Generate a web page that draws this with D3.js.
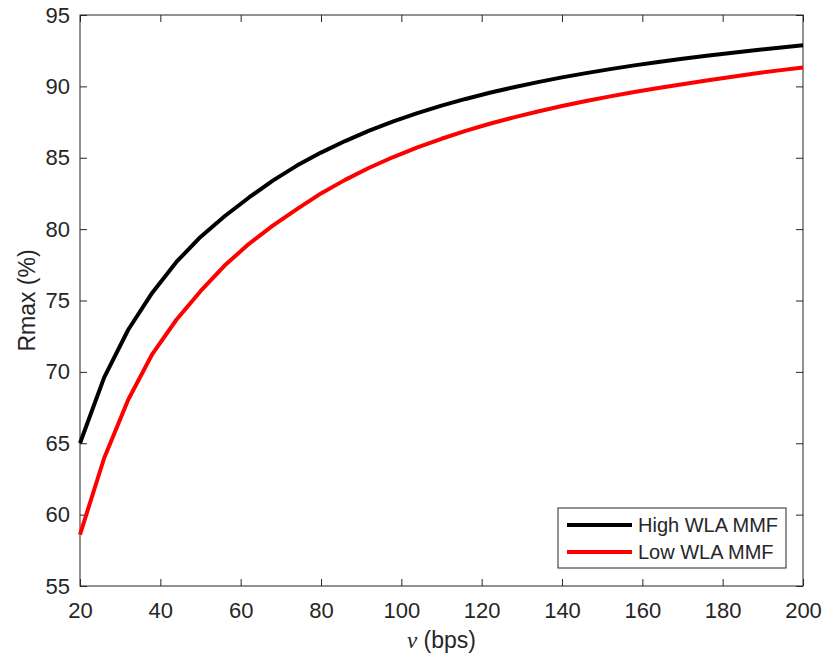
<!DOCTYPE html>
<html>
<head>
<meta charset="utf-8">
<script src="https://cdn.jsdelivr.net/npm/d3@7"></script>
<style>
  body { margin: 0; background: #fff; }
  text { font-family: "Liberation Sans", Arial, sans-serif; fill: #262626; }
</style>
</head>
<body>
<svg id="chart"></svg>
<script>
// -- DATA --
const rate = [20, 26, 32, 38, 44, 50, 56, 62, 68, 74, 80, 86, 92, 98, 104, 110, 116, 122, 128, 134,
  140, 146, 152, 158, 164, 170, 176, 182, 188, 194, 200];
const highWla = [65.0, 69.6, 72.95, 75.55, 77.7, 79.45, 80.9, 82.2, 83.4, 84.45, 85.36, 86.17, 86.9, 87.55, 88.13, 88.65, 89.12, 89.55, 89.94, 90.3,
  90.63, 90.93, 91.21, 91.47, 91.71, 91.93, 92.14, 92.34, 92.53, 92.71, 92.88];
const lowWla = [58.6, 63.95, 68.05, 71.25, 73.65, 75.65, 77.45, 78.95, 80.25, 81.4, 82.5, 83.45, 84.3, 85.05, 85.72, 86.33, 86.88, 87.38, 87.83, 88.24,
  88.62, 88.97, 89.3, 89.6, 89.88, 90.15, 90.41, 90.66, 90.9, 91.12, 91.32];
const seriesNames = ["High WLA MMF", "Low WLA MMF"];
const seriesColors = ["#000000", "#ff0000"];
const xTicks = [20, 40, 60, 80, 100, 120, 140, 160, 180, 200];
const yTicks = [55, 60, 65, 70, 75, 80, 85, 90, 95];

// -- LAYOUT --
const W = 826, H = 659;
const m = { left: 80, top: 15, right: 23, bottom: 73 };
const w = W - m.left - m.right;
const h = H - m.top - m.bottom;
const axisColor = "#262626";
const tickLen = 7;

const svg = d3.select("#chart").attr("width", W).attr("height", H);
const g = svg.append("g").attr("transform", `translate(${m.left},${m.top})`);

// Scales
const x = d3.scaleLinear().domain([20, 200]).range([0, w]);
const y = d3.scaleLinear().domain([55, 95]).range([h, 0]);

// axes, ticks inward on all four sides (box on)
function styleAxis(sel) {
  sel.select(".domain").remove();
  sel.selectAll(".tick line").attr("stroke", axisColor);
  sel.selectAll(".tick text").style("font-size", "22px").attr("fill", axisColor);
}
g.append("g")
  .attr("transform", `translate(0,${h})`)
  .call(d3.axisBottom(x).tickValues(xTicks).tickSizeInner(-tickLen).tickSizeOuter(0).tickPadding(16))
  .call(styleAxis);
g.append("g")
  .call(d3.axisTop(x).tickValues(xTicks).tickSizeInner(-tickLen).tickSizeOuter(0).tickFormat(""))
  .call(styleAxis);
g.append("g")
  .call(d3.axisLeft(y).tickValues(yTicks).tickSizeInner(-tickLen).tickSizeOuter(0).tickPadding(10))
  .call(styleAxis);
g.append("g")
  .attr("transform", `translate(${w},0)`)
  .call(d3.axisRight(y).tickValues(yTicks).tickSizeInner(-tickLen).tickSizeOuter(0).tickFormat(""))
  .call(styleAxis);

// the box
g.append("rect")
  .attr("width", w).attr("height", h)
  .attr("fill", "none").attr("stroke", axisColor).attr("stroke-width", 1);

// lines
const line = d3.line().x((d) => x(d[0])).y((d) => y(d[1]));
[highWla, lowWla].forEach((vals, i) => {
  g.append("path")
    .datum(rate.map((r, k) => [r, vals[k]]))
    .attr("d", line)
    .attr("fill", "none")
    .attr("stroke", seriesColors[i])
    .attr("stroke-width", 4)
    .attr("stroke-linejoin", "round");
});

// axis titles
svg.append("text")
  .attr("transform", `translate(35,${m.top + h / 2}) rotate(-90)`)
  .attr("text-anchor", "middle")
  .style("font-size", "23px")
  .text("Rmax (%)");
const xl = svg.append("text")
  .attr("x", m.left + w / 2)
  .attr("y", 648)
  .attr("text-anchor", "middle")
  .style("font-size", "23px");
xl.append("tspan").style("font-family", "'Liberation Serif', 'DejaVu Serif', serif").style("font-style", "italic").text("ν");
xl.append("tspan").text(" (bps)");

// legend
const lg = svg.append("g").attr("transform", "translate(558,508)");
lg.append("rect")
  .attr("width", 228).attr("height", 60)
  .attr("fill", "#fff").attr("stroke", axisColor).attr("stroke-width", 1);
seriesNames.forEach((name, i) => {
  const yy = 17 + i * 27;
  lg.append("line")
    .attr("x1", 9).attr("x2", 74).attr("y1", yy).attr("y2", yy)
    .attr("stroke", seriesColors[i]).attr("stroke-width", 4);
  lg.append("text")
    .attr("x", 80).attr("y", yy)
    .attr("dy", "0.35em")
    .style("font-size", "20px")
    .text(name);
});
</script>
</body>
</html>
